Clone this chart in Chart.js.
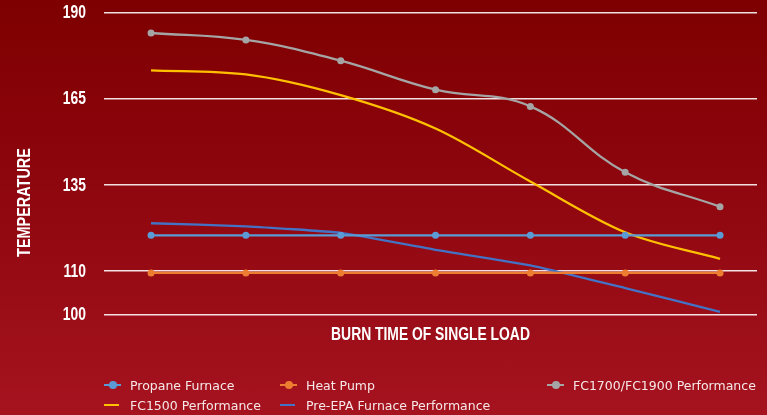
<!DOCTYPE html>
<html>
<head>
<meta charset="utf-8">
<script src="https://cdn.jsdelivr.net/npm/chart.js@4/dist/chart.umd.min.js"></script>
<style>
  html, body { margin: 0; padding: 0; }
  body { width: 767px; height: 415px; overflow: hidden;
    background: linear-gradient(to bottom, #7e0000 0%, #8c050d 40%, #a5131f 100%); }
  #wrap { position: relative; width: 767px; height: 415px; }
  #legend { position: absolute; left: 0; top: 0; width: 767px; height: 415px; pointer-events: none;
    font-family: "DejaVu Sans", sans-serif; font-size: 12.5px; color: #f6e8e8; }
  .item { position: absolute; display: flex; align-items: center; height: 16px; white-space: nowrap; }
  .mark { position: relative; width: 26px; height: 16px; }
  .mark .ln { position: absolute; left: 0; top: 7px; height: 2px; }
  .mark .pt { position: absolute; top: 4px; width: 8px; height: 8px; border-radius: 50%; }
</style>
</head>
<body>
<div id="wrap">
  <canvas id="chart" width="767" height="415"></canvas>
  <div id="legend"></div>
</div>
<script>
// loads along the burn time axis (no labels shown on the picture)
const loads = [0, 1, 2, 3, 4, 5, 6];
// y tick labels, drawn at even slots except the 100-110 half step
const yTicks = [100, 110, 135, 165, 190];
const ySlots = [0, 0.5, 1.5, 2.5, 3.5];

const propaneFurnace = [120.4, 120.4, 120.4, 120.4, 120.4, 120.4, 120.4];
const heatPump = [109.6, 109.6, 109.6, 109.6, 109.6, 109.6, 109.6];
const fc1700 = [184, 182, 176, 167.6, 162.3, 139.4, 128.7];
const fc1500 = [173.2, 172, 166, 154.6, 136.2, 121.3, 113.6];
const preEpa = [123.9, 123, 121.1, 116.2, 111.7, 106.1, 100.6];

const seriesNames = ["Propane Furnace", "Heat Pump", "FC1700/FC1900 Performance", "FC1500 Performance", "Pre-EPA Furnace Performance"];
const seriesColors = ["#5b9bd5", "#ed7d31", "#a5a5a5", "#ffc000", "#4472c4"];
const xTitle = "BURN TIME OF SINGLE LOAD";
const yTitle = "TEMPERATURE";

/** value -> slot, piecewise between the tick labels */
const toSlot = (v) => {
  for (let i = 0; i < yTicks.length - 1; i++) {
    if (v <= yTicks[i + 1] || i === yTicks.length - 2) {
      const f = (v - yTicks[i]) / (yTicks[i + 1] - yTicks[i]);
      return ySlots[i] + f * (ySlots[i + 1] - ySlots[i]);
    }
  }
  return 0;
};
const fromSlot = (s) => {
  for (let i = 0; i < ySlots.length - 1; i++) {
    if (s <= ySlots[i + 1] || i === ySlots.length - 2) {
      const f = (s - ySlots[i]) / (ySlots[i + 1] - ySlots[i]);
      return yTicks[i] + f * (yTicks[i + 1] - yTicks[i]);
    }
  }
  return yTicks[0];
};

// linear scale with a broken (piecewise) mapping
class PiecewiseScale extends Chart.LinearScale {
  buildTicks() {
    return yTicks.map(v => ({ value: v }));
  }
  getPixelForValue(value) {
    const top = ySlots[ySlots.length - 1];
    return this.getPixelForDecimal(toSlot(value) / top);
  }
  getValueForPixel(pixel) {
    const top = ySlots[ySlots.length - 1];
    return fromSlot(this.getDecimalForPixel(pixel) * top);
  }
}
PiecewiseScale.id = "piecewise";
PiecewiseScale.defaults = Chart.LinearScale.defaults;
Chart.register(PiecewiseScale);

// no narrow font installed, so squeeze bold sans text horizontally
const condensedText = (ctx, text, x, y, align, rotate, squeeze) => {
  ctx.save();
  ctx.translate(x, y);
  if (rotate) ctx.rotate(-Math.PI / 2);
  ctx.scale(squeeze, 1);
  ctx.font = "bold 19px 'Liberation Sans', Arial, sans-serif";
  ctx.fillStyle = "#ffffff";
  ctx.textAlign = align;
  ctx.textBaseline = "middle";
  ctx.fillText(text, 0, 0);
  ctx.restore();
};

const axisText = {
  id: "axisText",
  afterDraw(chart) {
    const { ctx, chartArea, scales } = chart;
    for (const t of yTicks) {
      condensedText(ctx, String(t), chartArea.left - 18, scales.y.getPixelForValue(t) + 0.5, "right", false, 0.73);
    }
    condensedText(ctx, xTitle, (chartArea.left + chartArea.right) / 2, chartArea.bottom + 20.5, "center", false, 0.73);
    condensedText(ctx, yTitle, chartArea.left - 79, 202.5, "center", true, 0.76);
  }
};

const allValues = [propaneFurnace, heatPump, fc1700, fc1500, preEpa];
const hasPoints = [true, true, true, false, false];
const tensions = [0, 0, 0.4, 0.4, 0.15];
const curveModes = ["default", "default", "default", "monotone", "default"];

const datasets = allValues.map((vals, i) => ({
  label: seriesNames[i],
  data: vals.map((v, j) => ({ x: loads[j], y: v })),
  borderColor: seriesColors[i],
  backgroundColor: seriesColors[i],
  borderWidth: 2.3,
  pointRadius: hasPoints[i] ? 3.5 : 0,
  pointBorderWidth: 0,
  tension: tensions[i],
  cubicInterpolationMode: curveModes[i],
  fill: false,
}));

new Chart(document.getElementById("chart"), {
  type: "line",
  data: { datasets },
  plugins: [axisText],
  options: {
    responsive: false,
    devicePixelRatio: 1,
    animation: false,
    layout: { padding: { top: 12.3, left: 104, right: 10, bottom: 92.6 } },
    plugins: { legend: { display: false }, tooltip: { enabled: false } },
    scales: {
      x: {
        type: "linear",
        min: -0.496,
        max: 6.39,
        grid: { display: false },
        border: { display: false },
        ticks: { display: false },
      },
      y: {
        type: "piecewise",
        min: 100,
        max: 190,
        grid: { color: "rgba(255,255,255,0.88)", lineWidth: 1.5, drawTicks: false },
        border: { display: false },
        ticks: { display: false },
      },
    },
  },
});

// legend laid out like the source (three columns on row one, two on row two)
const legendSpots = [[104, 377], [280, 377], [547, 377], [104, 397], [280, 397]];
const legendEl = document.getElementById("legend");
seriesNames.forEach((name, i) => {
  const it = document.createElement("div");
  it.className = "item";
  it.style.left = legendSpots[i][0] + "px";
  it.style.top = legendSpots[i][1] + "px";
  const mk = document.createElement("div");
  mk.className = "mark";
  const ln = document.createElement("div");
  ln.className = "ln";
  ln.style.width = (hasPoints[i] ? 17 : 15) + "px";
  ln.style.background = seriesColors[i];
  mk.appendChild(ln);
  if (hasPoints[i]) {
    const pt = document.createElement("div");
    pt.className = "pt";
    pt.style.left = "4.5px";
    pt.style.background = seriesColors[i];
    mk.appendChild(pt);
  }
  it.appendChild(mk);
  const tx = document.createElement("span");
  tx.textContent = name;
  it.appendChild(tx);
  legendEl.appendChild(it);
});
</script>
</body>
</html>
